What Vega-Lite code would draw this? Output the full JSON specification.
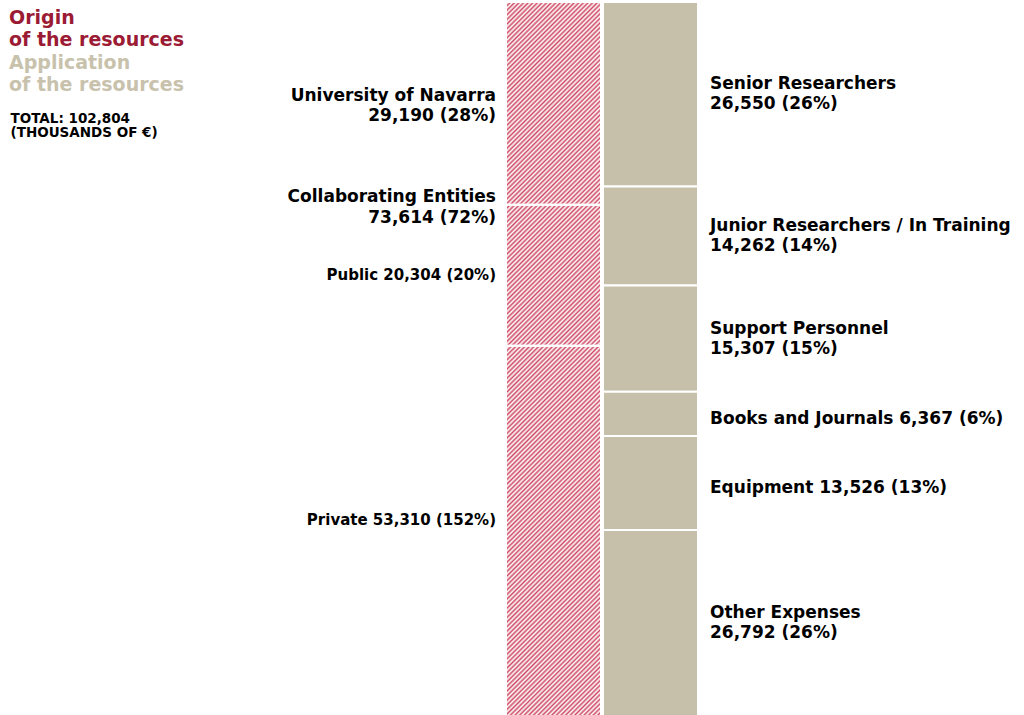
{
  "$schema": "https://vega.github.io/schema/vega-lite/v6.json",
  "width": 1024,
  "height": 715,
  "autosize": "none",
  "padding": 0,
  "background": "white",
  "config": {"view": {"stroke": null}, "text": {"font": "DejaVu Sans", "fontWeight": "bold", "color": "#000"}},
  "title": {
    "text": ["Origin", "of the resources"],
    "subtitle": ["Application", "of the resources"],
    "anchor": "start", "frame": "group", "orient": "top", "offset": -95, "dx": 9,
    "font": "DejaVu Sans", "fontSize": 19, "fontWeight": "bold", "color": "#9b1a34", "lineHeight": 22,
    "subtitleFont": "DejaVu Sans", "subtitleFontSize": 19, "subtitleFontWeight": "bold", "subtitleColor": "#c8c2ad", "subtitleLineHeight": 22, "subtitlePadding": 4
  },
  "datasets": {
    "flows": [
      {"side": "Origin", "item": "University of Navarra", "value": 29190, "order": 1, "label": "University of Navarra 29,190 (28%)"},
      {"side": "Origin", "item": "Public", "value": 20304, "order": 2, "label": "Public 20,304 (20%)"},
      {"side": "Origin", "item": "Private", "value": 53310, "order": 3, "label": "Private 53,310 (152%)"},
      {"side": "Application", "item": "Senior Researchers", "value": 26550, "order": 1, "label": "Senior Researchers\n26,550 (26%)"},
      {"side": "Application", "item": "Junior Researchers / In Training", "value": 14262, "order": 2, "label": "Junior Researchers / In Training\n14,262 (14%)"},
      {"side": "Application", "item": "Support Personnel", "value": 15307, "order": 3, "label": "Support Personnel\n15,307 (15%)"},
      {"side": "Application", "item": "Books and Journals", "value": 6367, "order": 4, "label": "Books and Journals 6,367 (6%)"},
      {"side": "Application", "item": "Equipment", "value": 13526, "order": 5, "label": "Equipment 13,526 (13%)"},
      {"side": "Application", "item": "Other Expenses", "value": 26792, "order": 6, "label": "Other Expenses\n26,792 (26%)"}
    ],
    "groups": [
      {"side": "Origin", "item": "University of Navarra", "value": 29190, "order": 1, "label": "University of Navarra\n29,190 (28%)"},
      {"side": "Origin", "item": "Collaborating Entities", "value": 73614, "order": 2, "label": "Collaborating Entities\n73,614 (72%)"}
    ]
  },
  "data": {"name": "flows"},
  "transform": [
    {"stack": "value", "groupby": ["side"], "sort": [{"field": "order", "order": "ascending"}], "as": ["v0", "v1"]},
    {"calculate": "(datum.v0 + datum.v1) / 2", "as": "mid"}
  ],
  "encoding": {
    "x": {
      "field": "side", "type": "nominal",
      "scale": {"domain": ["Origin", "Application"], "range": [506, 698], "paddingInner": 0.0206, "paddingOuter": 0},
      "axis": {
        "orient": "top", "labels": false, "ticks": false, "domain": false, "grid": false,
        "title": ["TOTAL: 102,804", "(THOUSANDS OF €)"],
        "titleX": 10, "titleY": 111, "titleAlign": "left", "titleBaseline": "top", "titleAngle": 0,
        "titleFont": "DejaVu Sans", "titleFontSize": 13.5, "titleFontWeight": "bold", "titleColor": "#000", "titleLineHeight": 14.5, "titlePadding": 0
      }
    }
  },
  "layer": [
    {
      "transform": [{"filter": "datum.side == 'Application'"}],
      "mark": {"type": "bar", "fill": "#c6c0aa", "stroke": "white", "strokeWidth": 2},
      "encoding": {
        "y": {"field": "v0", "type": "quantitative", "scale": {"domain": [0, 102804], "range": [2, 716], "nice": false}, "axis": null},
        "y2": {"field": "v1"}
      }
    },
    {
      "transform": [
        {"filter": "datum.side == 'Origin'"},
        {"aggregate": [{"op": "sum", "field": "value", "as": "total"}], "groupby": ["side"]}
      ],
      "mark": {"type": "bar", "strokeWidth": 0, "fill": {"gradient": "linear", "x1": 0, "y1": 0, "x2": 0.1685, "y2": 1.2661, "stops": [
{"offset":0.00,"color":"#cf4c66"},{"offset":0.0025,"color":"#fff"},{"offset":0.005,"color":"#cf4c66"},{"offset":0.0075,"color":"#fff"},
{"offset":0.01,"color":"#cf4c66"},{"offset":0.0125,"color":"#fff"},{"offset":0.015,"color":"#cf4c66"},{"offset":0.0175,"color":"#fff"},
{"offset":0.02,"color":"#cf4c66"},{"offset":0.0225,"color":"#fff"},{"offset":0.025,"color":"#cf4c66"},{"offset":0.0275,"color":"#fff"},
{"offset":0.03,"color":"#cf4c66"},{"offset":0.0325,"color":"#fff"},{"offset":0.035,"color":"#cf4c66"},{"offset":0.0375,"color":"#fff"},
{"offset":0.04,"color":"#cf4c66"},{"offset":0.0425,"color":"#fff"},{"offset":0.045,"color":"#cf4c66"},{"offset":0.0475,"color":"#fff"},
{"offset":0.05,"color":"#cf4c66"},{"offset":0.0525,"color":"#fff"},{"offset":0.055,"color":"#cf4c66"},{"offset":0.0575,"color":"#fff"},
{"offset":0.06,"color":"#cf4c66"},{"offset":0.0625,"color":"#fff"},{"offset":0.065,"color":"#cf4c66"},{"offset":0.0675,"color":"#fff"},
{"offset":0.07,"color":"#cf4c66"},{"offset":0.0725,"color":"#fff"},{"offset":0.075,"color":"#cf4c66"},{"offset":0.0775,"color":"#fff"},
{"offset":0.08,"color":"#cf4c66"},{"offset":0.0825,"color":"#fff"},{"offset":0.085,"color":"#cf4c66"},{"offset":0.0875,"color":"#fff"},
{"offset":0.09,"color":"#cf4c66"},{"offset":0.0925,"color":"#fff"},{"offset":0.095,"color":"#cf4c66"},{"offset":0.0975,"color":"#fff"},
{"offset":0.10,"color":"#cf4c66"},{"offset":0.1025,"color":"#fff"},{"offset":0.105,"color":"#cf4c66"},{"offset":0.1075,"color":"#fff"},
{"offset":0.11,"color":"#cf4c66"},{"offset":0.1125,"color":"#fff"},{"offset":0.115,"color":"#cf4c66"},{"offset":0.1175,"color":"#fff"},
{"offset":0.12,"color":"#cf4c66"},{"offset":0.1225,"color":"#fff"},{"offset":0.125,"color":"#cf4c66"},{"offset":0.1275,"color":"#fff"},
{"offset":0.13,"color":"#cf4c66"},{"offset":0.1325,"color":"#fff"},{"offset":0.135,"color":"#cf4c66"},{"offset":0.1375,"color":"#fff"},
{"offset":0.14,"color":"#cf4c66"},{"offset":0.1425,"color":"#fff"},{"offset":0.145,"color":"#cf4c66"},{"offset":0.1475,"color":"#fff"},
{"offset":0.15,"color":"#cf4c66"},{"offset":0.1525,"color":"#fff"},{"offset":0.155,"color":"#cf4c66"},{"offset":0.1575,"color":"#fff"},
{"offset":0.16,"color":"#cf4c66"},{"offset":0.1625,"color":"#fff"},{"offset":0.165,"color":"#cf4c66"},{"offset":0.1675,"color":"#fff"},
{"offset":0.17,"color":"#cf4c66"},{"offset":0.1725,"color":"#fff"},{"offset":0.175,"color":"#cf4c66"},{"offset":0.1775,"color":"#fff"},
{"offset":0.18,"color":"#cf4c66"},{"offset":0.1825,"color":"#fff"},{"offset":0.185,"color":"#cf4c66"},{"offset":0.1875,"color":"#fff"},
{"offset":0.19,"color":"#cf4c66"},{"offset":0.1925,"color":"#fff"},{"offset":0.195,"color":"#cf4c66"},{"offset":0.1975,"color":"#fff"},
{"offset":0.20,"color":"#cf4c66"},{"offset":0.2025,"color":"#fff"},{"offset":0.205,"color":"#cf4c66"},{"offset":0.2075,"color":"#fff"},
{"offset":0.21,"color":"#cf4c66"},{"offset":0.2125,"color":"#fff"},{"offset":0.215,"color":"#cf4c66"},{"offset":0.2175,"color":"#fff"},
{"offset":0.22,"color":"#cf4c66"},{"offset":0.2225,"color":"#fff"},{"offset":0.225,"color":"#cf4c66"},{"offset":0.2275,"color":"#fff"},
{"offset":0.23,"color":"#cf4c66"},{"offset":0.2325,"color":"#fff"},{"offset":0.235,"color":"#cf4c66"},{"offset":0.2375,"color":"#fff"},
{"offset":0.24,"color":"#cf4c66"},{"offset":0.2425,"color":"#fff"},{"offset":0.245,"color":"#cf4c66"},{"offset":0.2475,"color":"#fff"},
{"offset":0.25,"color":"#cf4c66"},{"offset":0.2525,"color":"#fff"},{"offset":0.255,"color":"#cf4c66"},{"offset":0.2575,"color":"#fff"},
{"offset":0.26,"color":"#cf4c66"},{"offset":0.2625,"color":"#fff"},{"offset":0.265,"color":"#cf4c66"},{"offset":0.2675,"color":"#fff"},
{"offset":0.27,"color":"#cf4c66"},{"offset":0.2725,"color":"#fff"},{"offset":0.275,"color":"#cf4c66"},{"offset":0.2775,"color":"#fff"},
{"offset":0.28,"color":"#cf4c66"},{"offset":0.2825,"color":"#fff"},{"offset":0.285,"color":"#cf4c66"},{"offset":0.2875,"color":"#fff"},
{"offset":0.29,"color":"#cf4c66"},{"offset":0.2925,"color":"#fff"},{"offset":0.295,"color":"#cf4c66"},{"offset":0.2975,"color":"#fff"},
{"offset":0.30,"color":"#cf4c66"},{"offset":0.3025,"color":"#fff"},{"offset":0.305,"color":"#cf4c66"},{"offset":0.3075,"color":"#fff"},
{"offset":0.31,"color":"#cf4c66"},{"offset":0.3125,"color":"#fff"},{"offset":0.315,"color":"#cf4c66"},{"offset":0.3175,"color":"#fff"},
{"offset":0.32,"color":"#cf4c66"},{"offset":0.3225,"color":"#fff"},{"offset":0.325,"color":"#cf4c66"},{"offset":0.3275,"color":"#fff"},
{"offset":0.33,"color":"#cf4c66"},{"offset":0.3325,"color":"#fff"},{"offset":0.335,"color":"#cf4c66"},{"offset":0.3375,"color":"#fff"},
{"offset":0.34,"color":"#cf4c66"},{"offset":0.3425,"color":"#fff"},{"offset":0.345,"color":"#cf4c66"},{"offset":0.3475,"color":"#fff"},
{"offset":0.35,"color":"#cf4c66"},{"offset":0.3525,"color":"#fff"},{"offset":0.355,"color":"#cf4c66"},{"offset":0.3575,"color":"#fff"},
{"offset":0.36,"color":"#cf4c66"},{"offset":0.3625,"color":"#fff"},{"offset":0.365,"color":"#cf4c66"},{"offset":0.3675,"color":"#fff"},
{"offset":0.37,"color":"#cf4c66"},{"offset":0.3725,"color":"#fff"},{"offset":0.375,"color":"#cf4c66"},{"offset":0.3775,"color":"#fff"},
{"offset":0.38,"color":"#cf4c66"},{"offset":0.3825,"color":"#fff"},{"offset":0.385,"color":"#cf4c66"},{"offset":0.3875,"color":"#fff"},
{"offset":0.39,"color":"#cf4c66"},{"offset":0.3925,"color":"#fff"},{"offset":0.395,"color":"#cf4c66"},{"offset":0.3975,"color":"#fff"},
{"offset":0.40,"color":"#cf4c66"},{"offset":0.4025,"color":"#fff"},{"offset":0.405,"color":"#cf4c66"},{"offset":0.4075,"color":"#fff"},
{"offset":0.41,"color":"#cf4c66"},{"offset":0.4125,"color":"#fff"},{"offset":0.415,"color":"#cf4c66"},{"offset":0.4175,"color":"#fff"},
{"offset":0.42,"color":"#cf4c66"},{"offset":0.4225,"color":"#fff"},{"offset":0.425,"color":"#cf4c66"},{"offset":0.4275,"color":"#fff"},
{"offset":0.43,"color":"#cf4c66"},{"offset":0.4325,"color":"#fff"},{"offset":0.435,"color":"#cf4c66"},{"offset":0.4375,"color":"#fff"},
{"offset":0.44,"color":"#cf4c66"},{"offset":0.4425,"color":"#fff"},{"offset":0.445,"color":"#cf4c66"},{"offset":0.4475,"color":"#fff"},
{"offset":0.45,"color":"#cf4c66"},{"offset":0.4525,"color":"#fff"},{"offset":0.455,"color":"#cf4c66"},{"offset":0.4575,"color":"#fff"},
{"offset":0.46,"color":"#cf4c66"},{"offset":0.4625,"color":"#fff"},{"offset":0.465,"color":"#cf4c66"},{"offset":0.4675,"color":"#fff"},
{"offset":0.47,"color":"#cf4c66"},{"offset":0.4725,"color":"#fff"},{"offset":0.475,"color":"#cf4c66"},{"offset":0.4775,"color":"#fff"},
{"offset":0.48,"color":"#cf4c66"},{"offset":0.4825,"color":"#fff"},{"offset":0.485,"color":"#cf4c66"},{"offset":0.4875,"color":"#fff"},
{"offset":0.49,"color":"#cf4c66"},{"offset":0.4925,"color":"#fff"},{"offset":0.495,"color":"#cf4c66"},{"offset":0.4975,"color":"#fff"},
{"offset":0.50,"color":"#cf4c66"},{"offset":0.5025,"color":"#fff"},{"offset":0.505,"color":"#cf4c66"},{"offset":0.5075,"color":"#fff"},
{"offset":0.51,"color":"#cf4c66"},{"offset":0.5125,"color":"#fff"},{"offset":0.515,"color":"#cf4c66"},{"offset":0.5175,"color":"#fff"},
{"offset":0.52,"color":"#cf4c66"},{"offset":0.5225,"color":"#fff"},{"offset":0.525,"color":"#cf4c66"},{"offset":0.5275,"color":"#fff"},
{"offset":0.53,"color":"#cf4c66"},{"offset":0.5325,"color":"#fff"},{"offset":0.535,"color":"#cf4c66"},{"offset":0.5375,"color":"#fff"},
{"offset":0.54,"color":"#cf4c66"},{"offset":0.5425,"color":"#fff"},{"offset":0.545,"color":"#cf4c66"},{"offset":0.5475,"color":"#fff"},
{"offset":0.55,"color":"#cf4c66"},{"offset":0.5525,"color":"#fff"},{"offset":0.555,"color":"#cf4c66"},{"offset":0.5575,"color":"#fff"},
{"offset":0.56,"color":"#cf4c66"},{"offset":0.5625,"color":"#fff"},{"offset":0.565,"color":"#cf4c66"},{"offset":0.5675,"color":"#fff"},
{"offset":0.57,"color":"#cf4c66"},{"offset":0.5725,"color":"#fff"},{"offset":0.575,"color":"#cf4c66"},{"offset":0.5775,"color":"#fff"},
{"offset":0.58,"color":"#cf4c66"},{"offset":0.5825,"color":"#fff"},{"offset":0.585,"color":"#cf4c66"},{"offset":0.5875,"color":"#fff"},
{"offset":0.59,"color":"#cf4c66"},{"offset":0.5925,"color":"#fff"},{"offset":0.595,"color":"#cf4c66"},{"offset":0.5975,"color":"#fff"},
{"offset":0.60,"color":"#cf4c66"},{"offset":0.6025,"color":"#fff"},{"offset":0.605,"color":"#cf4c66"},{"offset":0.6075,"color":"#fff"},
{"offset":0.61,"color":"#cf4c66"},{"offset":0.6125,"color":"#fff"},{"offset":0.615,"color":"#cf4c66"},{"offset":0.6175,"color":"#fff"},
{"offset":0.62,"color":"#cf4c66"},{"offset":0.6225,"color":"#fff"},{"offset":0.625,"color":"#cf4c66"},{"offset":0.6275,"color":"#fff"},
{"offset":0.63,"color":"#cf4c66"},{"offset":0.6325,"color":"#fff"},{"offset":0.635,"color":"#cf4c66"},{"offset":0.6375,"color":"#fff"},
{"offset":0.64,"color":"#cf4c66"},{"offset":0.6425,"color":"#fff"},{"offset":0.645,"color":"#cf4c66"},{"offset":0.6475,"color":"#fff"},
{"offset":0.65,"color":"#cf4c66"},{"offset":0.6525,"color":"#fff"},{"offset":0.655,"color":"#cf4c66"},{"offset":0.6575,"color":"#fff"},
{"offset":0.66,"color":"#cf4c66"},{"offset":0.6625,"color":"#fff"},{"offset":0.665,"color":"#cf4c66"},{"offset":0.6675,"color":"#fff"},
{"offset":0.67,"color":"#cf4c66"},{"offset":0.6725,"color":"#fff"},{"offset":0.675,"color":"#cf4c66"},{"offset":0.6775,"color":"#fff"},
{"offset":0.68,"color":"#cf4c66"},{"offset":0.6825,"color":"#fff"},{"offset":0.685,"color":"#cf4c66"},{"offset":0.6875,"color":"#fff"},
{"offset":0.69,"color":"#cf4c66"},{"offset":0.6925,"color":"#fff"},{"offset":0.695,"color":"#cf4c66"},{"offset":0.6975,"color":"#fff"},
{"offset":0.70,"color":"#cf4c66"},{"offset":0.7025,"color":"#fff"},{"offset":0.705,"color":"#cf4c66"},{"offset":0.7075,"color":"#fff"},
{"offset":0.71,"color":"#cf4c66"},{"offset":0.7125,"color":"#fff"},{"offset":0.715,"color":"#cf4c66"},{"offset":0.7175,"color":"#fff"},
{"offset":0.72,"color":"#cf4c66"},{"offset":0.7225,"color":"#fff"},{"offset":0.725,"color":"#cf4c66"},{"offset":0.7275,"color":"#fff"},
{"offset":0.73,"color":"#cf4c66"},{"offset":0.7325,"color":"#fff"},{"offset":0.735,"color":"#cf4c66"},{"offset":0.7375,"color":"#fff"},
{"offset":0.74,"color":"#cf4c66"},{"offset":0.7425,"color":"#fff"},{"offset":0.745,"color":"#cf4c66"},{"offset":0.7475,"color":"#fff"},
{"offset":0.75,"color":"#cf4c66"},{"offset":0.7525,"color":"#fff"},{"offset":0.755,"color":"#cf4c66"},{"offset":0.7575,"color":"#fff"},
{"offset":0.76,"color":"#cf4c66"},{"offset":0.7625,"color":"#fff"},{"offset":0.765,"color":"#cf4c66"},{"offset":0.7675,"color":"#fff"},
{"offset":0.77,"color":"#cf4c66"},{"offset":0.7725,"color":"#fff"},{"offset":0.775,"color":"#cf4c66"},{"offset":0.7775,"color":"#fff"},
{"offset":0.78,"color":"#cf4c66"},{"offset":0.7825,"color":"#fff"},{"offset":0.785,"color":"#cf4c66"},{"offset":0.7875,"color":"#fff"},
{"offset":0.79,"color":"#cf4c66"},{"offset":0.7925,"color":"#fff"},{"offset":0.795,"color":"#cf4c66"},{"offset":0.7975,"color":"#fff"},
{"offset":0.80,"color":"#cf4c66"},{"offset":0.8025,"color":"#fff"},{"offset":0.805,"color":"#cf4c66"},{"offset":0.8075,"color":"#fff"},
{"offset":0.81,"color":"#cf4c66"},{"offset":0.8125,"color":"#fff"},{"offset":0.815,"color":"#cf4c66"},{"offset":0.8175,"color":"#fff"},
{"offset":0.82,"color":"#cf4c66"},{"offset":0.8225,"color":"#fff"},{"offset":0.825,"color":"#cf4c66"},{"offset":0.8275,"color":"#fff"},
{"offset":0.83,"color":"#cf4c66"},{"offset":0.8325,"color":"#fff"},{"offset":0.835,"color":"#cf4c66"},{"offset":0.8375,"color":"#fff"},
{"offset":0.84,"color":"#cf4c66"},{"offset":0.8425,"color":"#fff"},{"offset":0.845,"color":"#cf4c66"},{"offset":0.8475,"color":"#fff"},
{"offset":0.85,"color":"#cf4c66"},{"offset":0.8525,"color":"#fff"},{"offset":0.855,"color":"#cf4c66"},{"offset":0.8575,"color":"#fff"},
{"offset":0.86,"color":"#cf4c66"},{"offset":0.8625,"color":"#fff"},{"offset":0.865,"color":"#cf4c66"},{"offset":0.8675,"color":"#fff"},
{"offset":0.87,"color":"#cf4c66"},{"offset":0.8725,"color":"#fff"},{"offset":0.875,"color":"#cf4c66"},{"offset":0.8775,"color":"#fff"},
{"offset":0.88,"color":"#cf4c66"},{"offset":0.8825,"color":"#fff"},{"offset":0.885,"color":"#cf4c66"},{"offset":0.8875,"color":"#fff"},
{"offset":0.89,"color":"#cf4c66"},{"offset":0.8925,"color":"#fff"},{"offset":0.895,"color":"#cf4c66"},{"offset":0.8975,"color":"#fff"},
{"offset":0.90,"color":"#cf4c66"},{"offset":0.9025,"color":"#fff"},{"offset":0.905,"color":"#cf4c66"},{"offset":0.9075,"color":"#fff"},
{"offset":0.91,"color":"#cf4c66"},{"offset":0.9125,"color":"#fff"},{"offset":0.915,"color":"#cf4c66"},{"offset":0.9175,"color":"#fff"},
{"offset":0.92,"color":"#cf4c66"},{"offset":0.9225,"color":"#fff"},{"offset":0.925,"color":"#cf4c66"},{"offset":0.9275,"color":"#fff"},
{"offset":0.93,"color":"#cf4c66"},{"offset":0.9325,"color":"#fff"},{"offset":0.935,"color":"#cf4c66"},{"offset":0.9375,"color":"#fff"},
{"offset":0.94,"color":"#cf4c66"},{"offset":0.9425,"color":"#fff"},{"offset":0.945,"color":"#cf4c66"},{"offset":0.9475,"color":"#fff"},
{"offset":0.95,"color":"#cf4c66"},{"offset":0.9525,"color":"#fff"},{"offset":0.955,"color":"#cf4c66"},{"offset":0.9575,"color":"#fff"},
{"offset":0.96,"color":"#cf4c66"},{"offset":0.9625,"color":"#fff"},{"offset":0.965,"color":"#cf4c66"},{"offset":0.9675,"color":"#fff"},
{"offset":0.97,"color":"#cf4c66"},{"offset":0.9725,"color":"#fff"},{"offset":0.975,"color":"#cf4c66"},{"offset":0.9775,"color":"#fff"},
{"offset":0.98,"color":"#cf4c66"},{"offset":0.9825,"color":"#fff"},{"offset":0.985,"color":"#cf4c66"},{"offset":0.9875,"color":"#fff"},
{"offset":0.99,"color":"#cf4c66"},{"offset":0.9925,"color":"#fff"},{"offset":0.995,"color":"#cf4c66"},{"offset":0.9975,"color":"#fff"},
{"offset":1,"color":"#cf4c66"}
      ]}},
      "encoding": {
        "y": {"field": "total", "type": "quantitative", "axis": null},
        "y2": {"datum": 0}
      }
    },
    {
      "transform": [{"filter": "datum.side == 'Origin'"}],
      "mark": {"type": "bar", "fillOpacity": 0, "stroke": "white", "strokeWidth": 2},
      "encoding": {
        "y": {"field": "v0", "type": "quantitative", "axis": null},
        "y2": {"field": "v1"}
      }
    },
    {
      "transform": [{"filter": "datum.side == 'Application' && datum.order != 4 && datum.order != 5"}],
      "mark": {"type": "text", "align": "left", "baseline": "middle", "dx": 59.5, "dy": -10, "fontSize": 17, "lineHeight": 20, "lineBreak": "\n"},
      "encoding": {
        "y": {"field": "mid", "type": "quantitative", "axis": null},
        "text": {"field": "label"}
      }
    },
    {
      "transform": [{"filter": "datum.side == 'Application' && (datum.order == 4 || datum.order == 5)"}],
      "mark": {"type": "text", "align": "left", "baseline": "middle", "dx": 59.5, "dy": 5, "fontSize": 17},
      "encoding": {
        "y": {"field": "mid", "type": "quantitative", "axis": null},
        "text": {"field": "label"}
      }
    },
    {
      "transform": [{"filter": "datum.side == 'Origin' && datum.order == 2"}],
      "mark": {"type": "text", "align": "right", "baseline": "middle", "dx": -57.5, "fontSize": 15},
      "encoding": {
        "y": {"field": "mid", "type": "quantitative", "axis": null},
        "text": {"field": "label"}
      }
    },
    {
      "transform": [{"filter": "datum.side == 'Origin' && datum.order == 3"}],
      "mark": {"type": "text", "align": "right", "baseline": "middle", "dx": -57.5, "dy": -11, "fontSize": 15},
      "encoding": {
        "y": {"field": "mid", "type": "quantitative", "axis": null},
        "text": {"field": "label"}
      }
    },
    {
      "data": {"name": "groups"},
      "transform": [
        {"stack": "value", "groupby": ["side"], "sort": [{"field": "order", "order": "ascending"}], "as": ["v0", "v1"]},
        {"calculate": "datum.order == 1 ? (datum.v0 + datum.v1) / 2 : datum.v0", "as": "pos"}
      ],
      "mark": {"type": "text", "align": "right", "baseline": "middle", "dx": -57.5, "dy": -7.5, "fontSize": 17, "lineHeight": 20.5, "lineBreak": "\n"},
      "encoding": {
        "y": {"field": "pos", "type": "quantitative", "axis": null},
        "text": {"field": "label"}
      }
    }
  ]
}
